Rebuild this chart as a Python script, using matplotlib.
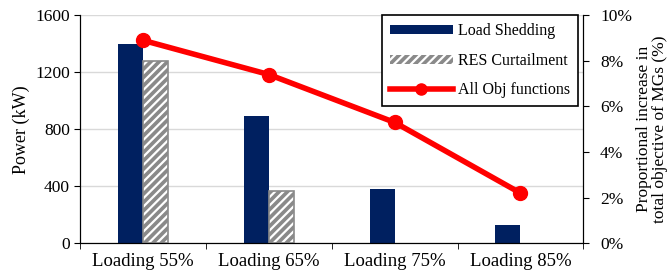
import matplotlib.pyplot as plt
import numpy as np
from matplotlib.ticker import FuncFormatter
from matplotlib.patches import Patch
from matplotlib.lines import Line2D

plt.rcParams['font.family'] = ['Liberation Serif', 'DejaVu Serif']
plt.rcParams['font.size'] = 12.5
plt.rcParams['hatch.linewidth'] = 1.6

# ───── Data ─────
categories = ["Loading 55%", "Loading 65%", "Loading 75%", "Loading 85%"]
load_shedding = [1400, 890, 380, 130]
res_curtailment = [1280, 370, 0, 0]
obj_increase = [8.9, 7.4, 5.3, 2.2]

navy = "#002060"
grey = "#8a8a8a"

fig, ax = plt.subplots(figsize=(6.69, 2.78), dpi=100)
x = np.arange(len(categories))
w = 0.2

ax.bar(x - w / 2, load_shedding, w, color=navy, label="Load Shedding", zorder=2)
ax.bar(x + w / 2, res_curtailment, w, color=grey, edgecolor="white",
       hatch="////", linewidth=0, zorder=2)
ax.bar(x + w / 2, res_curtailment, w, fill=False, edgecolor=grey,
       linewidth=[1.2 if v > 0 else 0 for v in res_curtailment], zorder=3)

ax.set_xlim(-0.5, len(categories) - 0.5)
ax.set_ylim(0, 1600)
ax.set_yticks(range(0, 1601, 400))
ax.set_xticks(x)
ax.set_xticklabels(categories, fontsize=13.5)
ax.set_xticks(np.arange(-0.5, len(categories), 1), minor=True)
ax.tick_params(axis="x", which="major", length=0, pad=7)
ax.tick_params(axis="x", which="minor", length=4, direction="out")
ax.tick_params(axis="y", length=4, direction="out")
ax.set_ylabel("Power (kW)", fontsize=13)
ax.grid(axis="y", color="#d9d9d9", linewidth=1, zorder=0)
ax.set_axisbelow(True)
ax.spines["top"].set_visible(False)

ax2 = ax.twinx()
ax2.plot(x, obj_increase, color="red", linewidth=4, marker="o",
         markersize=10, label="All Obj functions", zorder=5)
ax2.set_ylim(0, 10)
ax2.set_yticks(range(0, 11, 2))
ax2.yaxis.set_major_formatter(FuncFormatter(lambda v, p: f"{int(v)}%"))
ax2.tick_params(axis="y", length=4, direction="out", pad=8)
ax2.set_ylabel("Proportional increase in\ntotal objective of MGs (%)",
               linespacing=1.0, fontsize=12.5, labelpad=3)
ax2.spines["top"].set_visible(False)

# legend
handles = [
    Patch(facecolor=navy, label="Load Shedding"),
    Patch(facecolor=grey, edgecolor="white", hatch="////", linewidth=0,
          label="RES Curtailment"),
    Line2D([0], [0], color="red", linewidth=4, marker="o", markersize=8,
           label="All Obj functions"),
]
leg = ax2.legend(handles=handles, loc="upper right", frameon=True,
                 fancybox=False, edgecolor="black", framealpha=1,
                 fontsize=11.5, handlelength=4.0, handleheight=0.5,
                 labelspacing=0.85, handletextpad=0.3, borderpad=0.5,
                 borderaxespad=0.0, bbox_to_anchor=(0.99, 1.0))
leg.get_frame().set_linewidth(1.2)

fig.subplots_adjust(left=0.12, right=0.872, top=0.945, bottom=0.125)
fig.savefig("out.png", dpi=100)
